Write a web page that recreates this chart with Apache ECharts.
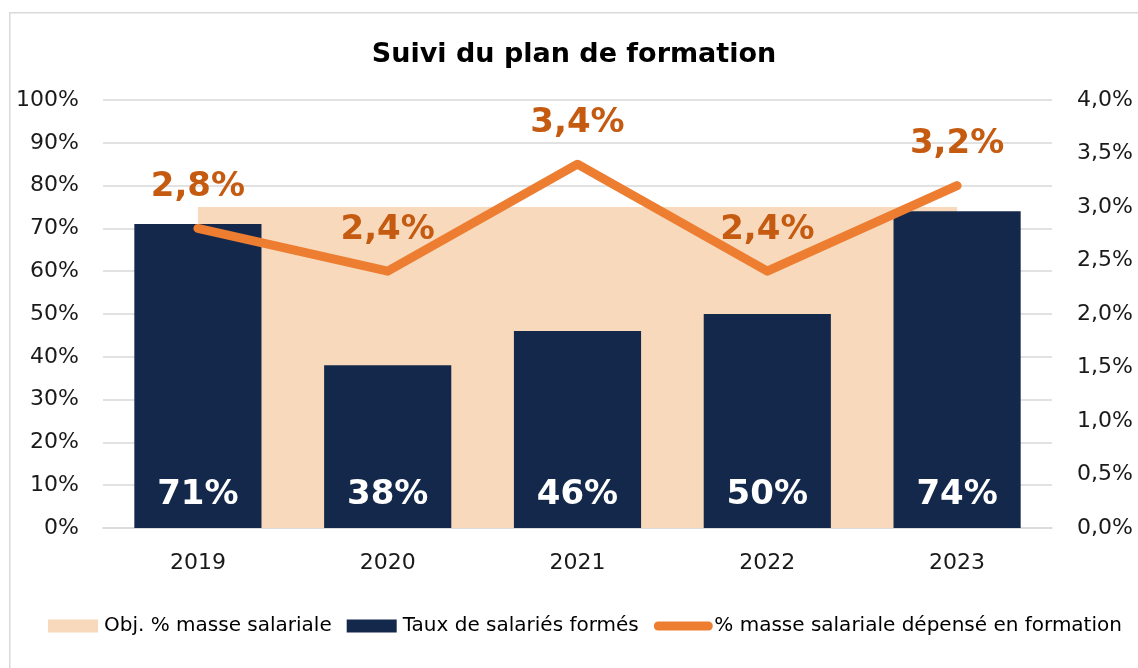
<!DOCTYPE html>
<html>
<head>
<meta charset="utf-8">
<script src="https://cdn.jsdelivr.net/npm/echarts@6/dist/echarts.min.js"></script>
<style>
html,body{margin:0;padding:0;background:#fff;}
#chart{width:1138px;height:668px;}
</style>
</head>
<body>
<div id="chart"></div>
<script>
const categories = ['2019', '2020', '2021', '2022', '2023'];
const objMasseSalariale = [75, 75, 75, 75, 75];
const tauxSalariesFormes = [71, 38, 46, 50, 74];
const masseDepensee = [2.8, 2.4, 3.4, 2.4, 3.2];
const seriesNames = ['Obj. % masse salariale', 'Taux de salariés formés', '% masse salariale dépensé en formation'];
const titleText = 'Suivi du plan de formation';

const FONT = 'DejaVu Sans';
const chart = echarts.init(document.getElementById('chart'));
const fmtComma = v => v.toFixed(1).replace('.', ',') + '%';

chart.setOption({
  animation: false,
  textStyle: { fontFamily: FONT },
  graphic: [{
    type: 'rect', left: 9, top: 12, z: -10,
    shape: { width: 1140, height: 670 },
    style: { fill: '#fff', stroke: '#D9D9D9', lineWidth: 1.5 }
  }],
  title: {
    text: titleText, left: 569, textAlign: 'center', top: 36,
    textStyle: { fontFamily: FONT, fontWeight: 'bold', fontSize: 27, color: '#000' }
  },
  legend: {
    bottom: 32, left: 48, width: 1120, padding: 0,
    itemWidth: 50, itemHeight: 13, itemGap: 15,
    textStyle: { fontFamily: FONT, fontSize: 20, color: '#000', padding: [0, 0, 0, 1] },
    lineStyle: { width: 9, cap: 'round' },
    data: [
      { name: seriesNames[0], icon: 'rect' },
      { name: seriesNames[1], icon: 'rect' },
      { name: seriesNames[2], itemStyle: { opacity: 0 } }
    ]
  },
  grid: { left: 103, right: 86, top: 100, bottom: 140 },
  xAxis: {
    type: 'category', data: categories,
    axisLine: { lineStyle: { color: '#D9D9D9', width: 1.5 } },
    axisTick: { show: false },
    axisLabel: { fontSize: 22, color: '#1a1a1a', margin: 24, fontFamily: FONT }
  },
  yAxis: [{
    type: 'value', min: 0, max: 100, interval: 10,
    axisLabel: { formatter: '{value}%', fontSize: 22, color: '#1a1a1a', margin: 24, fontFamily: FONT },
    splitLine: { lineStyle: { color: '#D9D9D9', width: 1.5 } },
    axisLine: { show: false }, axisTick: { show: false }
  }, {
    type: 'value', min: 0, max: 4, interval: 0.5,
    axisLabel: { formatter: fmtComma, fontSize: 22, color: '#1a1a1a', margin: 25, fontFamily: FONT },
    splitLine: { show: false },
    axisLine: { show: false }, axisTick: { show: false }
  }],
  series: [{
    name: seriesNames[0], type: 'line', data: objMasseSalariale,
    symbol: 'none', lineStyle: { width: 0, opacity: 0 },
    itemStyle: { color: '#F8D9BC' },
    areaStyle: { color: '#F8D9BC', opacity: 1 },
    z: 1
  }, {
    name: seriesNames[1], type: 'bar', data: tauxSalariesFormes,
    barWidth: '67%',
    itemStyle: { color: '#14284C' },
    label: {
      show: true, position: 'insideBottom', distance: 16,
      formatter: '{c}%', color: '#fff', fontWeight: 'bold', fontSize: 34, fontFamily: FONT
    },
    z: 2
  }, {
    name: seriesNames[2], type: 'line', yAxisIndex: 1, data: masseDepensee,
    symbol: 'circle', symbolSize: 1, showSymbol: true,
    lineStyle: { width: 9, color: '#ED7D31', cap: 'round', join: 'round' },
    itemStyle: { color: '#ED7D31' },
    label: {
      show: true, position: 'top', distance: 24,
      formatter: p => fmtComma(p.value), color: '#C55A11', fontWeight: 'bold', fontSize: 34, fontFamily: FONT
    },
    z: 3
  }]
});
</script>
</body>
</html>
